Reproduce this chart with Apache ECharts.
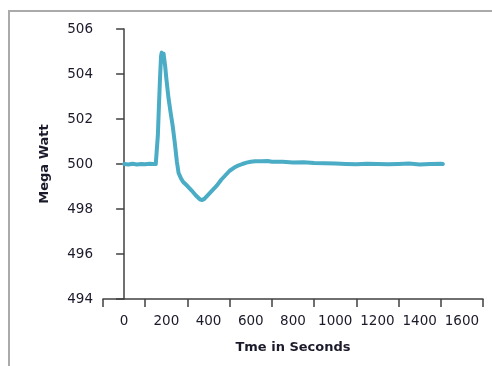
<!DOCTYPE html>
<html>
<head>
<meta charset="utf-8">
<script src="https://cdn.jsdelivr.net/npm/echarts@6/dist/echarts.min.js"></script>
<style>
html,body{margin:0;padding:0;background:#fff;}
#c{width:492px;height:366px;}
</style>
</head>
<body>
<div id="c"></div>
<script>
// Tick labels on the x axis (shown centred between ticks, as in the reference)
var xCategories = ['0','200','400','600','800','1000','1200','1400','1600'];
// Time (s) and power (MW)
var timeSec = [0,20,40,60,80,100,120,140,150,155,160,165,170,175,178,183,187,195,200,210,220,230,240,250,258,270,280,300,320,340,360,370,380,400,420,440,460,480,500,520,540,560,580,600,620,650,680,700,750,800,850,900,950,1000,1050,1100,1150,1200,1250,1300,1350,1400,1450,1500,1510];
var megaWatt = [500.0,499.98,500.01,499.98,500.0,499.99,500.01,500.0,500.0,500.05,501.3,502.6,503.8,504.8,504.95,504.75,504.9,504.3,503.8,502.95,502.3,501.7,500.95,500.1,499.6,499.35,499.2,499.02,498.82,498.6,498.42,498.4,498.45,498.65,498.85,499.05,499.3,499.5,499.7,499.83,499.93,500.0,500.06,500.1,500.12,500.12,500.13,500.1,500.1,500.07,500.08,500.04,500.03,500.02,500.0,499.99,500.01,500.0,499.99,500.0,500.02,499.98,500.0,500.01,500.0];

var chart = echarts.init(document.getElementById('c'));
var pts = timeSec.map(function(t,i){return [t, megaWatt[i]];});
var txt = '#1a1a2a';
chart.setOption({
  animation:false,
  backgroundColor:'#fff',
  graphic:[{type:'rect',shape:{x:9,y:11,width:600,height:500},style:{fill:'none',stroke:'#aaa',lineWidth:2},z:-1}],
  grid:{left:103,right:9,top:29,bottom:67},
  xAxis:[{
    type:'category',data:xCategories,boundaryGap:true,
    name:'Tme in Seconds',nameLocation:'middle',nameGap:42,
    nameTextStyle:{fontFamily:'DejaVu Sans',fontWeight:'bold',fontSize:13,color:txt},
    axisLine:{lineStyle:{color:'#404040',width:1.5}},
    axisTick:{show:true,length:8,lineStyle:{color:'#404040',width:1.5}},
    axisLabel:{fontFamily:'DejaVu Sans',fontSize:13.5,color:txt,margin:15,interval:0},
    splitLine:{show:false}
  },{
    type:'value',min:-100,max:1700,show:false
  }],
  yAxis:{
    type:'value',min:494,max:506,interval:2,
    name:'Mega Watt',nameLocation:'middle',nameGap:52,nameRotate:90,
    nameTextStyle:{fontFamily:'DejaVu Sans',fontWeight:'bold',fontSize:13,color:txt},
    axisLine:{show:true,lineStyle:{color:'#404040',width:1.5}},
    axisTick:{show:true,length:8,lineStyle:{color:'#404040',width:1.5}},
    axisLabel:{fontFamily:'DejaVu Sans',fontSize:13.5,color:txt,margin:10},
    splitLine:{show:false}
  },
  series:[{
    type:'line',xAxisIndex:1,data:pts,showSymbol:false,smooth:false,
    lineStyle:{color:'#4bacc6',width:4,cap:'round',join:'round'}
  }]
});
</script>
</body>
</html>
